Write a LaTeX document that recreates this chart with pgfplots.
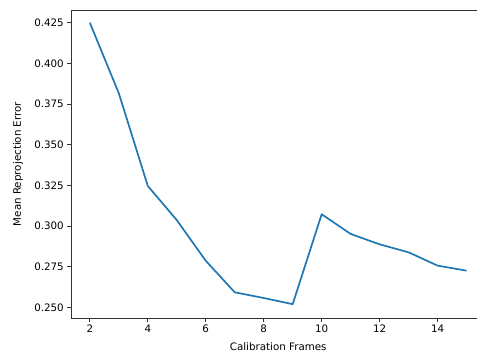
\documentclass[border=0pt]{standalone}
\usepackage{fontspec}
\setmainfont{DejaVu Sans}
\usepackage{pgfplots}
\pgfplotsset{compat=1.18}
\definecolor{mplblue}{HTML}{1F77B4}
\begin{document}
\fontsize{10.3}{12}\selectfont
\begin{tikzpicture}
\begin{axis}[
  scale only axis,
  width=414.4pt, height=308pt,
  xmin=1.35, xmax=15.65,
  ymin=0.2434, ymax=0.4328,
  axis x line=box, axis y line=left,
  axis line style={-, line width=0.9pt, black!80},
  tick pos=left,
  tick align=outside,
  major tick length=3.6pt,
  tick style={line width=0.9pt, black!80},
  xtick={2,4,...,14},
  ytick={0.250,0.275,0.300,0.325,0.350,0.375,0.400,0.425},
  /pgf/number format/assume math mode=true,
  yticklabel style={/pgf/number format/.cd, fixed, fixed zerofill, precision=3},
  xticklabel style={/pgf/number format/.cd, fixed},
  ticklabel style={font=\fontsize{10.3}{12}\selectfont, text=black},
  every axis x label/.style={at={(axis description cs:0.5,0)}, anchor=center, yshift=-28.7pt},
  every axis y label/.style={at={(axis description cs:0,0.5)}, xshift=-53pt, rotate=90, anchor=center},
  label style={font=\fontsize{10.3}{12}\selectfont, text=black},
  xlabel={Calibration Frames},
  ylabel={Mean Reprojection Error},
]
\addplot[mplblue, line width=1.7pt, line join=round] coordinates {
(2,0.425) (3,0.3816) (4,0.3246) (5,0.3036) (6,0.2786) (7,0.2592) (8,0.2557) (9,0.2519)
(10,0.3072) (11,0.2951) (12,0.2887) (13,0.2838) (14,0.2756) (15,0.2725)
};
\end{axis}
\pgfresetboundingbox
\path[use as bounding box] ([shift={(-71pt,-38pt)}]current axis.south west) rectangle ([shift={(-8.4pt,10pt)}]current axis.north east);
\end{tikzpicture}
\end{document}
